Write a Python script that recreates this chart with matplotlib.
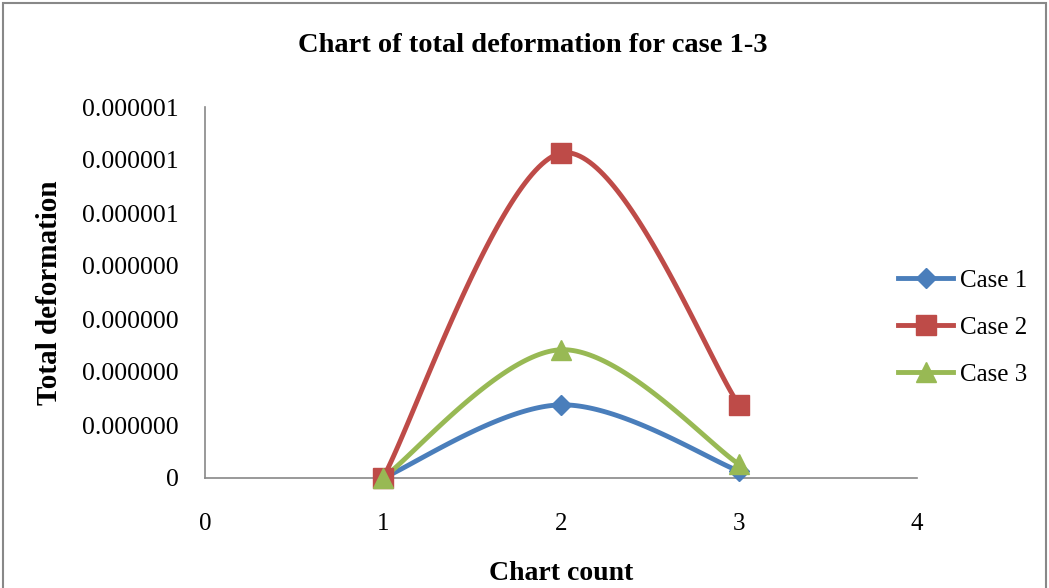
import numpy as np
from matplotlib import pyplot as plt
from matplotlib.patches import Rectangle

# chart data
counts = [1, 2, 3]
case1 = [0.0, 1.38e-7, 0.13e-7]
case2 = [0.0, 6.13e-7, 1.38e-7]
case3 = [0.0, 2.42e-7, 0.26e-7]
series_names = ["Case 1", "Case 2", "Case 3"]
series_colors = ["#4a7ebb", "#be4b48", "#98b954"]
series_markers = ["D", "s", "^"]
y_ticks = [0, 1e-7, 2e-7, 3e-7, 4e-7, 5e-7, 6e-7, 7e-7]
y_tick_labels = ["0", "0.000000", "0.000000", "0.000000", "0.000000",
                 "0.000001", "0.000001", "0.000001"]
x_ticks = [0, 1, 2, 3, 4]


def smooth(xs, ys, n=60):
    # bezier smoothing with catmull-rom style control points
    xs = np.asarray(xs, float)
    ys = np.asarray(ys, float)
    px, py = [], []
    m = len(xs)
    for i in range(m - 1):
        x0, y0 = xs[i], ys[i]
        x3, y3 = xs[i + 1], ys[i + 1]
        xp, yp = (xs[i - 1], ys[i - 1]) if i > 0 else (x0, y0)
        xn, yn = (xs[i + 2], ys[i + 2]) if i + 2 < m else (x3, y3)
        x1 = x0 + (x3 - xp) / 6
        y1 = y0 + (y3 - yp) / 6
        x2 = x3 - (xn - x0) / 6
        y2 = y3 - (yn - y0) / 6
        t = np.linspace(0, 1, n)
        a = (1 - t) ** 3
        b = 3 * (1 - t) ** 2 * t
        c = 3 * (1 - t) * t ** 2
        d = t ** 3
        px.extend(a * x0 + b * x1 + c * x2 + d * x3)
        py.extend(a * y0 + b * y1 + c * y2 + d * y3)
    return np.array(px), np.array(py)


fig = plt.figure(figsize=(10.49, 5.88), dpi=100)
fig.patches.append(Rectangle((3 / 1049, -0.01), 1043 / 1049, 1 - 3 / 588 + 0.01,
                             transform=fig.transFigure, fill=False,
                             edgecolor="#888888", linewidth=1.5))

ax = fig.add_axes([205 / 1049, 110 / 588, 712 / 1049, 371 / 588])

for ys, name, col, mk in zip([case1, case2, case3], series_names, series_colors, series_markers):
    sx, sy = smooth(counts, ys)
    ax.plot(sx, sy, color=col, linewidth=3.5, solid_capstyle="round", zorder=2)
    ax.plot(counts, ys, linestyle="none", marker=mk, markersize=14 if mk != "D" else 10,
            color=col, zorder=3, clip_on=False)
    ax.plot([], [], color=col, linewidth=3.5, marker=mk,
            markersize=14 if mk != "D" else 10, label=name)

ax.set_xlim(0, 4)
ax.set_ylim(0, 7e-7)
ax.set_xticks(x_ticks)
ax.set_xticklabels([str(v) for v in x_ticks], fontsize=18, family="Liberation Serif")
ax.set_yticks(y_ticks)
ax.set_yticklabels(y_tick_labels, fontsize=18.5, family="Liberation Serif")
ax.tick_params(length=0)
ax.tick_params(axis="y", pad=19)
ax.tick_params(axis="x", pad=25)

for s in ["top", "right"]:
    ax.spines[s].set_visible(False)
for s in ["left", "bottom"]:
    ax.spines[s].set_color("#888888")
    ax.spines[s].set_linewidth(1.2)

ax.set_xlabel("Chart count", fontsize=20, fontweight="bold", family="Liberation Serif",
              labelpad=19)
ax.set_ylabel("Total deformation", fontsize=21, fontweight="bold", family="Liberation Serif",
              labelpad=14)
fig.text(533 / 1049, 1 - 45 / 588, "Chart of total deformation for case 1-3", ha="center",
         va="center", fontsize=20.5, fontweight="bold", family="Liberation Serif")

leg = ax.legend(loc="center left", bbox_to_anchor=(0.974, 0.405), frameon=False,
                prop={"family": "Liberation Serif", "size": 18}, handlelength=2.2,
                labelspacing=0.99, handletextpad=0.25, borderpad=0, borderaxespad=0)

fig.savefig("out.png", dpi=100)
